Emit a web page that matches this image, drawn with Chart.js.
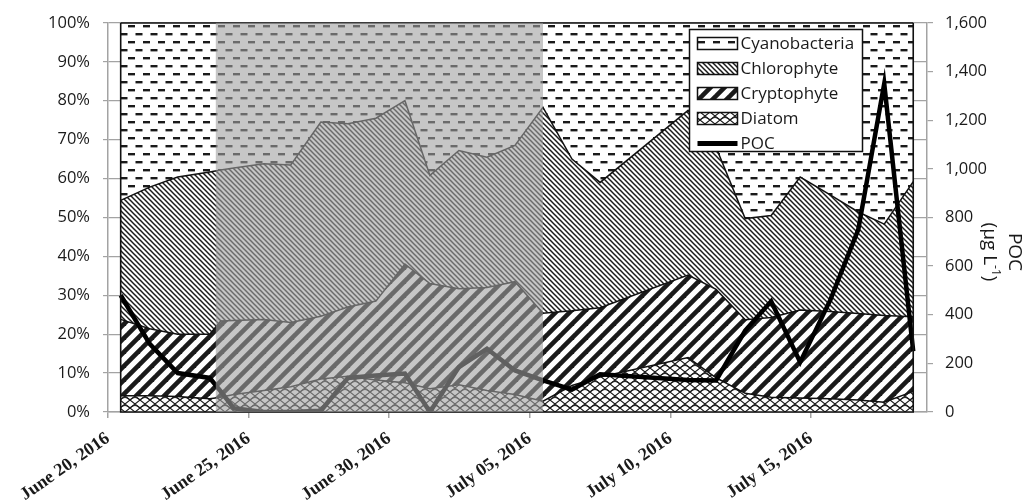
<!DOCTYPE html>
<html>
<head>
<meta charset="utf-8">
<style>
  html, body { margin: 0; padding: 0; background: #fff; }
  canvas { display: block; }
</style>
<script src="https://cdn.jsdelivr.net/npm/chart.js@4.4.1/dist/chart.umd.min.js"></script>
</head>
<body>
<canvas id="chart" width="1029" height="500"></canvas>
<script>
// Sampling times (local time) for the phytoplankton composition and POC series
const sampleTimes = [
  '2016-06-20T10:50', '2016-06-21T11:35', '2016-06-22T11:30', '2016-06-23T14:50',
  '2016-06-24T00:15', '2016-06-24T11:20', '2016-06-25T13:00', '2016-06-26T12:00',
  '2016-06-27T13:40', '2016-06-28T12:45', '2016-06-29T12:40', '2016-06-30T13:25',
  '2016-07-01T10:45', '2016-07-02T11:30', '2016-07-03T11:25', '2016-07-04T11:20',
  '2016-07-05T11:15', '2016-07-06T12:00', '2016-07-07T12:00', '2016-07-10T15:05',
  '2016-07-11T15:00', '2016-07-12T15:50', '2016-07-13T14:00', '2016-07-14T14:45',
  '2016-07-15T16:25', '2016-07-16T16:20', '2016-07-17T14:30', '2016-07-18T15:15'
];

// Relative abundance of each group (% of total)
const diatom        = [4.2, 4.2, 4.0, 3.4, 3.8, 4.5, 5.5, 6.5, 8.5, 9.2, 8.2, 7.5, 6.0, 7.0, 5.5, 4.5, 2.8, 6.8, 9.0, 14.0, 8.8, 4.8, 3.8, 3.6, 3.4, 3.1, 2.5, 5.3];
const cryptophyte   = [19.6, 17.2, 16.0, 16.6, 19.6, 19.0, 18.3, 16.5, 16.1, 17.8, 20.3, 30.5, 27.0, 24.7, 26.5, 29.0, 22.6, 19.2, 17.8, 21.2, 22.7, 18.9, 20.5, 22.6, 22.4, 22.2, 22.3, 19.2];
const chlorophyte   = [30.6, 36.4, 40.4, 41.7, 38.8, 39.2, 40.0, 40.5, 49.9, 47.1, 47.0, 42.0, 27.8, 35.5, 33.5, 35.0, 52.9, 39.0, 32.2, 42.3, 36.5, 26.0, 26.2, 34.2, 30.0, 26.1, 23.5, 34.7];
const cyanobacteria = [45.6, 42.2, 39.6, 38.3, 37.8, 37.3, 36.2, 36.5, 25.5, 25.9, 24.5, 20.0, 39.2, 32.8, 34.5, 31.5, 21.7, 35.0, 41.0, 22.5, 32.0, 50.3, 49.5, 39.6, 44.2, 48.6, 51.7, 40.8];

// Particulate organic carbon (µg L-1)
const poc = [480, 280, 160, 140, 85, 15, 0, 0, 5, 140, 150, 158, 0, 185, 260, 171, 130, 92, 155, 132, 130, 335, 455, 205, 460, 750, 1350, 250];

// Axis labels
const xTickLabels = ['June 20, 2016', 'June 25, 2016', 'June 30, 2016', 'July 05, 2016', 'July 10, 2016', 'July 15, 2016'];
const axisStart = '2016-06-20T00:00';
const axisEnd   = '2016-07-19T03:00';

// Highlighted period
const periodStart = '2016-06-23T20:00';
const periodEnd   = '2016-07-05T11:15';

const DAY = 86400000;
const t0 = Date.parse(axisStart + 'Z');
const toDays = s => (Date.parse(s + 'Z') - t0) / DAY;
const sampleDays = sampleTimes.map(toDays);
const points = arr => sampleDays.map((d, i) => ({ x: d, y: arr[i] }));

// ---- fill patterns ----
const INK = '#1a1a1a';
function tile(w, h, paint) {
  const c = document.createElement('canvas');
  c.width = w; c.height = h;
  const g = c.getContext('2d');
  g.fillStyle = '#ffffff';
  g.fillRect(0, 0, w, h);
  paint(g, w, h);
  return g.createPattern(c, 'repeat');
}
const dashPattern = tile(15, 16, g => {
  g.fillStyle = INK;
  g.fillRect(0.5, 1, 7, 2.4);
  g.fillRect(8, 9, 7, 2.4);
});
const thinDownDiagonal = tile(5, 5, g => {
  g.strokeStyle = INK; g.lineWidth = 1.5;
  for (const k of [-5, 0, 5]) { g.beginPath(); g.moveTo(k - 1, -1); g.lineTo(k + 6, 6); g.stroke(); }
});
const wideUpDiagonal = tile(14, 14, g => {
  g.strokeStyle = INK; g.lineWidth = 4.6;
  for (const k of [-14, 0, 14]) { g.beginPath(); g.moveTo(k - 2, 16); g.lineTo(k + 16, -2); g.stroke(); }
});
const scalePattern = tile(10, 8, g => {
  g.strokeStyle = INK; g.lineWidth = 1.1;
  g.beginPath();
  g.moveTo(0, 0); g.lineTo(10, 8);
  g.moveTo(10, 0); g.lineTo(0, 8);
  g.stroke();
  g.beginPath();
  g.moveTo(0, 8); g.quadraticCurveTo(5, 3, 10, 8);
  g.stroke();
});

// ---- plugins ----
const outlineAndPeriod = {
  id: 'outlineAndPeriod',
  afterDatasetsDraw(chart) {
    const { ctx, chartArea, scales: { x, y } } = chart;
    const x0 = x.getPixelForValue(sampleDays[0]);
    const x1 = x.getPixelForValue(sampleDays[sampleDays.length - 1]);
    const yb = y.getPixelForValue(0), yt = y.getPixelForValue(100);
    ctx.save();
    ctx.strokeStyle = '#111';
    ctx.lineWidth = 1.6;
    ctx.beginPath();
    ctx.moveTo(x0, yt); ctx.lineTo(x0, yb); ctx.lineTo(x1, yb); ctx.lineTo(x1, yt);
    ctx.stroke();
    // shaded period drawn over the stacked areas and POC line
    const p0 = x.getPixelForValue(toDays(periodStart));
    const p1 = x.getPixelForValue(toDays(periodEnd));
    ctx.fillStyle = 'rgba(160,160,160,0.6)';
    ctx.fillRect(p0, chartArea.top, p1 - p0, chartArea.bottom - chartArea.top);
    ctx.restore();
  }
};

const boxedLegend = {
  id: 'boxedLegend',
  afterDraw(chart, args, o) {
    const ctx = chart.ctx;
    ctx.save();
    ctx.fillStyle = '#fff';
    ctx.fillRect(o.left, o.top, o.width, o.height);
    ctx.strokeStyle = '#111';
    ctx.lineWidth = 1.5;
    ctx.strokeRect(o.left, o.top, o.width, o.height);
    ctx.font = o.font;
    ctx.textBaseline = 'middle';
    ctx.fillStyle = '#1a1a1a';
    o.order.forEach((di, row) => {
      const ds = chart.data.datasets[di];
      const cy = o.top + o.firstRow + row * o.rowGap;
      const sx = o.left + o.swatchX;
      if (ds.fill === false) {
        ctx.strokeStyle = ds.borderColor;
        ctx.lineWidth = 5;
        ctx.beginPath(); ctx.moveTo(sx, cy); ctx.lineTo(sx + o.swatchW, cy); ctx.stroke();
      } else {
        ctx.fillStyle = ds.backgroundColor;
        ctx.fillRect(sx, cy - o.swatchH / 2, o.swatchW, o.swatchH);
        ctx.strokeStyle = '#111';
        ctx.lineWidth = 1.5;
        ctx.strokeRect(sx, cy - o.swatchH / 2, o.swatchW, o.swatchH);
      }
      ctx.fillStyle = '#1a1a1a';
      ctx.fillText(ds.label, sx + o.swatchW + 3, cy + 1);
    });
    ctx.restore();
  }
};

const pocAxisTitle = {
  id: 'pocAxisTitle',
  afterDraw(chart, args, o) {
    const ctx = chart.ctx;
    ctx.save();
    ctx.fillStyle = '#1a1a1a';
    ctx.textBaseline = 'middle';
    // first line
    ctx.translate(o.x1, o.y);
    ctx.rotate(Math.PI / 2);
    ctx.font = o.font;
    ctx.textAlign = 'center';
    ctx.fillText('POC', 0, 0);
    ctx.restore();
    // second line with superscript exponent
    ctx.save();
    ctx.fillStyle = '#1a1a1a';
    ctx.textBaseline = 'middle';
    ctx.translate(o.x2, o.y);
    ctx.rotate(Math.PI / 2);
    ctx.font = o.font;
    const a = '(\u00b5g L', b = '-1', c = ')';
    ctx.font = o.supFont; const wb = ctx.measureText(b).width;
    ctx.font = o.font;
    const wa = ctx.measureText(a).width, wc = ctx.measureText(c).width;
    let sx = -(wa + wb + wc) / 2;
    ctx.textAlign = 'left';
    ctx.fillText(a, sx, 0); sx += wa;
    ctx.font = o.supFont; ctx.fillText(b, sx, -6); sx += wb;
    ctx.font = o.font; ctx.fillText(c, sx, 0);
    ctx.restore();
  }
};

Chart.defaults.font.family = "'Open Sans', 'Liberation Sans', sans-serif";
Chart.defaults.color = '#1a1a1a';

const AXIS_GRAY = '#a3a3a3';

new Chart(document.getElementById('chart'), {
  type: 'line',
  data: {
    datasets: [
      { label: 'Diatom', data: points(diatom), backgroundColor: scalePattern, borderColor: '#111', borderWidth: 1.5, fill: 'origin', yAxisID: 'y', clip: false },
      { label: 'Cryptophyte', data: points(cryptophyte), backgroundColor: wideUpDiagonal, borderColor: '#111', borderWidth: 1.5, fill: '-1', yAxisID: 'y', clip: false },
      { label: 'Chlorophyte', data: points(chlorophyte), backgroundColor: thinDownDiagonal, borderColor: '#111', borderWidth: 1.5, fill: '-1', yAxisID: 'y', clip: false },
      { label: 'Cyanobacteria', data: points(cyanobacteria), backgroundColor: dashPattern, borderColor: '#111', borderWidth: 1.5, fill: '-1', yAxisID: 'y', clip: false },
      { label: 'POC', data: points(poc), borderColor: '#000', borderWidth: 4.5, fill: false, yAxisID: 'y1', order: -1, borderJoinStyle: 'miter', tension: 0 }
    ]
  },
  options: {
    responsive: false,
    animation: false,
    devicePixelRatio: 1,
    events: [],
    layout: { padding: { top: 22, left: 0, right: 0, bottom: 0 } },
    elements: { point: { radius: 0 }, line: { tension: 0 } },
    plugins: {
      legend: { display: false },
      tooltip: { enabled: false },
      boxedLegend: {
        left: 689.5, top: 29.5, width: 173, height: 122,
        firstRow: 14, rowGap: 25, swatchX: 8, swatchW: 40, swatchH: 12,
        font: "17px 'Open Sans', sans-serif",
        order: [3, 2, 1, 0, 4]
      },
      pocAxisTitle: {
        x1: 1014, x2: 989, y: 252,
        font: "19px 'Open Sans', sans-serif",
        supFont: "12px 'Open Sans', sans-serif"
      }
    },
    scales: {
      x: {
        type: 'linear',
        min: 0,
        max: toDays(axisEnd),
        afterFit: s => { s.height = 88; },
        grid: { drawOnChartArea: false, color: AXIS_GRAY, tickLength: 6, lineWidth: 1.5 },
        border: { color: AXIS_GRAY, width: 1.5 },
        ticks: {
          stepSize: 5,
          includeBounds: false,
          autoSkip: false,
          minRotation: 35,
          maxRotation: 35,
          padding: 10,
          color: '#1a1a1a',
          font: { family: "'Liberation Serif', serif", size: 18, weight: 'bold' },
          callback: v => xTickLabels[Math.round(v / 5)] ?? ''
        }
      },
      y: {
        position: 'left',
        stacked: true,
        min: 0,
        max: 100,
        afterFit: s => { s.width = 108; },
        grid: { color: AXIS_GRAY, lineWidth: 1.2, tickLength: 5 },
        border: { color: AXIS_GRAY, width: 1.5 },
        ticks: { stepSize: 10, padding: 13, font: { size: 16.5 }, callback: v => v + '%' }
      },
      y1: {
        position: 'right',
        min: 0,
        max: 1600,
        afterFit: s => { s.width = 102; },
        grid: { drawOnChartArea: false, color: AXIS_GRAY, lineWidth: 1.2, tickLength: 6 },
        border: { color: AXIS_GRAY, width: 1.5 },
        ticks: {
          stepSize: 200, padding: 12, font: { size: 16.5 },
          callback: v => v >= 1000 ? Math.floor(v / 1000) + ',' + String(v % 1000).padStart(3, '0') : String(v)
        }
      }
    }
  },
  plugins: [outlineAndPeriod, boxedLegend, pocAxisTitle]
});
</script>
</body>
</html>
